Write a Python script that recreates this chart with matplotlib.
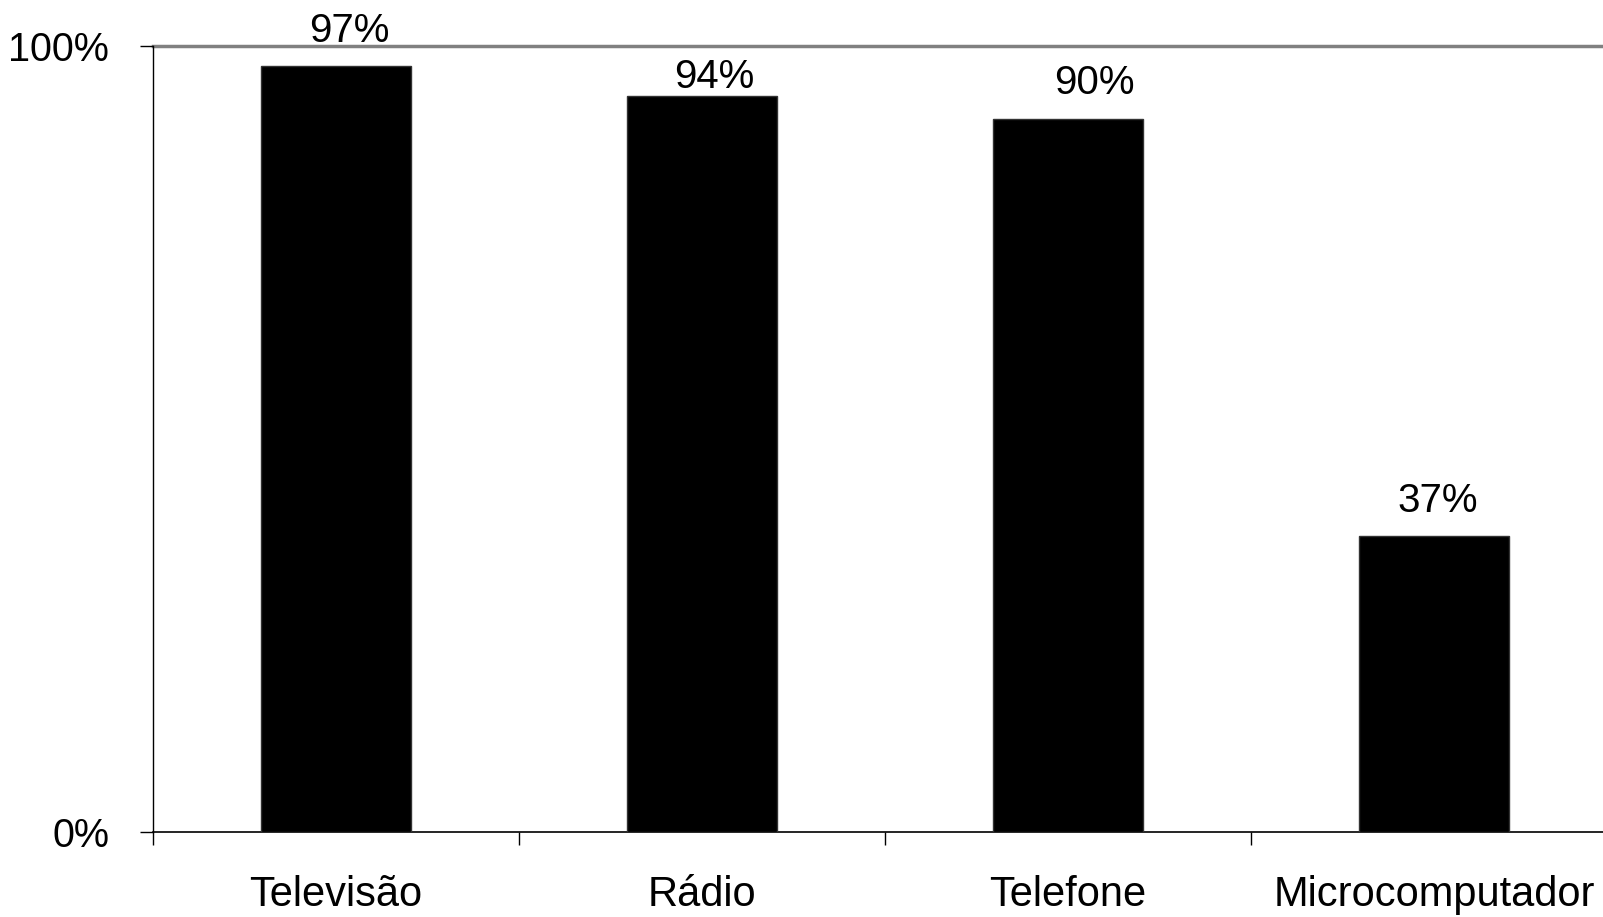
import matplotlib.pyplot as plt

categorias = ["Televisão", "Rádio", "Telefone", "Microcomputador"]
valores = [97.4, 93.7, 90.7, 37.6]
rotulos = ["97%", "94%", "90%", "37%"]
ticks_y = [0, 100]
ticks_y_rotulos = ["0%", "100%"]

# deslocamento dos rótulos (pt) como no original; o de 94% fica mais baixo
desloc_x = [9.5, 9, 19, 3]
desloc_y = [12, 0, 12, 12]

plt.rcParams["font.family"] = ["Liberation Sans", "DejaVu Sans"]

W, H = 1603, 917
esq, base, topo = 153, 832, 46
largura_cat = 366

fig = plt.figure(figsize=(W / 100, H / 100), dpi=100)
ax = fig.add_axes([esq / W, (H - base) / H, (W - esq) / W, (base - topo) / H])

x = list(range(len(categorias)))
ax.bar(x, valores, width=0.41, color="black", edgecolor="#333333", linewidth=1, zorder=3)

for xi, v, r, dx, dy in zip(x, valores, rotulos, desloc_x, desloc_y):
    ax.annotate(r, (xi, v), xytext=(dx, dy), textcoords="offset points",
                ha="center", va="bottom", fontsize=29)

ax.set_ylim(0, 100)
# eixo termina além da borda direita da figura
ax.set_xlim(-0.5, -0.5 + (W - esq) / largura_cat)

ax.set_yticks(ticks_y)
ax.set_yticklabels(ticks_y_rotulos, fontsize=28.5)
ax.tick_params(axis="y", length=9.5, width=1, pad=22, direction="out")

ax.set_xticks([i - 0.5 for i in x], minor=True)
ax.set_xticks(x)
ax.set_xticklabels(categorias, fontsize=30)
ax.tick_params(axis="x", which="major", length=0, pad=31)
ax.tick_params(axis="x", which="minor", length=9.5, width=1, direction="out")

ax.axhline(100, color="#808080", linewidth=2.5, zorder=1, clip_on=False)

ax.spines["top"].set_visible(False)
ax.spines["right"].set_visible(False)
ax.spines["left"].set_linewidth(1)
ax.spines["bottom"].set_linewidth(1.2)

fig.savefig("out.png", dpi=100)
